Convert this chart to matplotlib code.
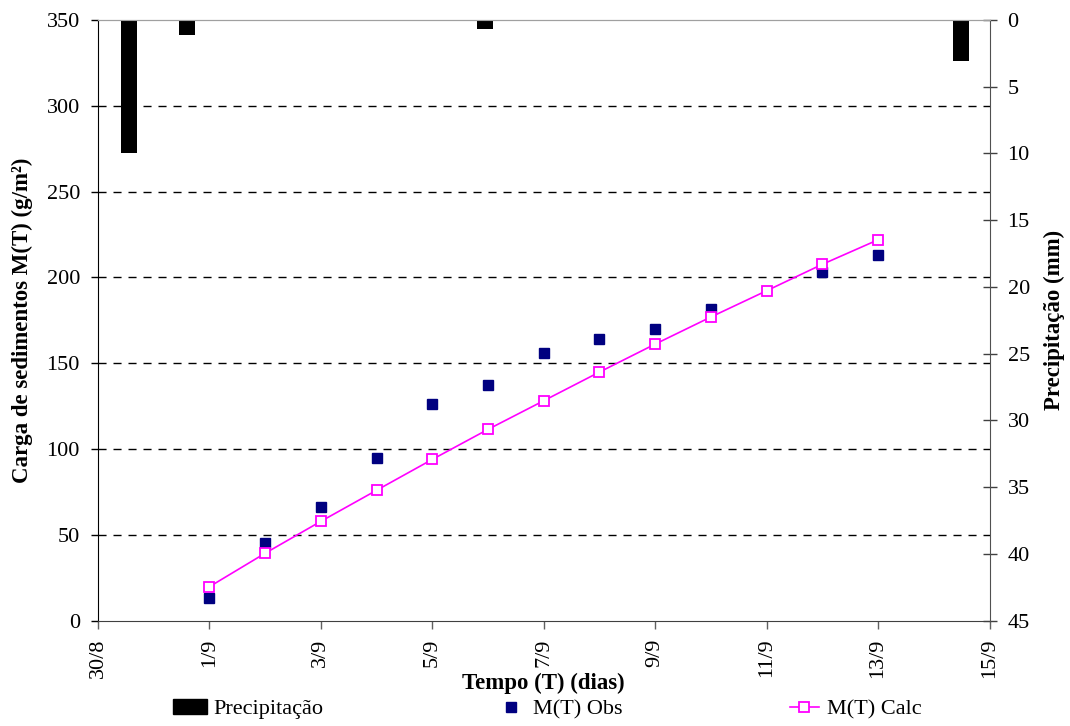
import matplotlib
matplotlib.use("Agg")
import matplotlib.pyplot as plt
from matplotlib.patches import Patch
from matplotlib.lines import Line2D

plt.rcParams['font.family'] = ['Liberation Serif', 'DejaVu Serif']

# Time axis: days counted from 30/8
tick_days = [0, 2, 4, 6, 8, 10, 12, 14, 16]
tick_labels = ['30/8', '1/9', '3/9', '5/9', '7/9', '9/9', '11/9', '13/9', '15/9']

# Rainfall events (day offset, mm)
rain_days = [0.55, 1.6, 6.95, 15.49]
rain_mm = [10.0, 1.1, 0.7, 3.1]

# Observed sediment load
obs_days = [2, 3, 4, 5, 6, 7, 8, 9, 10, 11, 13, 14]
obs_load = [12.9, 45.0, 66.0, 94.9, 126.2, 137.2, 156.1, 164.2, 170.0, 181.7, 203.1, 212.8]

# Calculated sediment load
calc_days = [2, 3, 4, 5, 6, 7, 8, 9, 10, 11, 12, 13, 14]
calc_load = [19.7, 39.2, 57.8, 75.9, 93.9, 111.4, 128.1, 144.8, 161.1, 176.9, 192.2, 207.6, 221.9]

W, H = 1070, 726
fig = plt.figure(figsize=(W / 100, H / 100), dpi=100)
ax = fig.add_axes([98 / W, 1 - 620.5 / H, (989.5 - 98) / W, 600.5 / H])

FS = 16
dash = (0, (5.8, 5.0))
for v in [50, 100, 150, 200, 250, 300]:
    ax.axhline(v, color='black', lw=1.0, ls=dash, zorder=1)

ax.plot(obs_days, obs_load, ls='none', marker='s', ms=6.8, color='#000080',
        mec='#000080', zorder=3)
ax.plot(calc_days, calc_load, color='#FF00FF', lw=1.2, marker='s', ms=6.8,
        mfc='white', mec='#FF00FF', mew=1.3, zorder=4)

ax.set_xlim(0, 16)
ax.set_ylim(0, 350)
ax.set_xticks(tick_days)
ax.set_xticklabels(tick_labels, rotation=90, fontsize=FS)
ax.set_yticks(range(0, 351, 50))
ax.tick_params(axis='y', labelsize=FS, direction='out', length=5, width=1, pad=8)
ax.tick_params(axis='x', direction='out', length=6, width=1, color='#606060', pad=7)
ax.set_xlabel('Tempo (T) (dias)', fontsize=16.5, fontweight='bold', labelpad=-4)
ax.set_ylabel('Carga de sedimentos M(T) (g/m²)', fontsize=16.5, fontweight='bold', labelpad=10)

ax.spines['left'].set_color('black')
ax.spines['bottom'].set_color('#404040')
ax.spines['top'].set_color('#a0a0a0')
ax.spines['right'].set_visible(False)

ax2 = ax.twinx()
ax2.bar(rain_days, rain_mm, width=0.29, color='black', align='center', zorder=2)
ax2.set_ylim(45, 0)
ax2.set_yticks(range(0, 46, 5))
ax2.tick_params(axis='y', labelsize=FS, direction='inout', length=10, width=1,
                color='#404040', pad=8)
ax2.set_ylabel('Precipitação (mm)', fontsize=16.5, fontweight='bold', labelpad=10)
ax2.spines['right'].set_color('#505050')
ax2.spines['top'].set_color('#a0a0a0')
ax2.spines['left'].set_visible(False)
ax2.spines['bottom'].set_visible(False)
ax2.set_xlim(0, 16)

y_leg = 1 - 709 / H
common = dict(frameon=False, borderpad=0, borderaxespad=0, fontsize=FS, loc='center left')
fig.legend(handles=[Patch(facecolor='black', edgecolor='black', label='Precipitação')],
           bbox_to_anchor=(173 / W, y_leg), handlelength=1.55, handleheight=0.65,
           handletextpad=0.28, **common)
fig.legend(handles=[Line2D([], [], ls='none', marker='s', ms=7.2, color='#000080',
                           label='M(T) Obs')],
           bbox_to_anchor=(502 / W, y_leg), handlelength=0.8,
           handletextpad=0.6, **common)
fig.legend(handles=[Line2D([], [], color='#FF00FF', lw=1.2, marker='s', ms=6.8,
                           mfc='white', mec='#FF00FF', mew=1.3, label='M(T) Calc')],
           bbox_to_anchor=(790 / W, y_leg), handlelength=1.3,
           handletextpad=0.35, **common)

fig.savefig('out.png', dpi=100)
